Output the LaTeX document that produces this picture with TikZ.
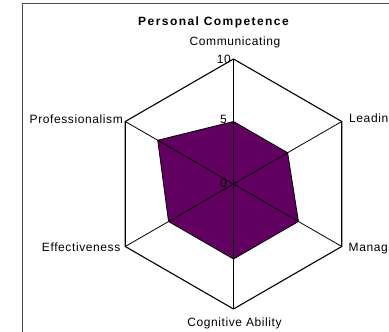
\documentclass[tikz,border=0pt]{standalone}
\usepackage{fontspec}
\setmainfont{Liberation Sans}[LetterSpace=5]
\usepackage{xcolor}
\usetikzlibrary{calc}

\definecolor{radarpurple}{RGB}{98,0,98}

\begin{document}
\begin{tikzpicture}[x=1pt, y=1pt,
                    every node/.style={inner sep=0pt, font=\fontsize{12}{14}\selectfont},
                    hexline/.style={black, line width=1.1pt},
                    spoke/.style={black, line width=0.8pt},
                    series/.style={fill=radarpurple, draw=black, line width=0.8pt}]

  \useasboundingbox (0,0) rectangle (389,332);
  \clip (0,0) rectangle (389,332);

  % === Chart area frame (runs off the right and bottom) ===
  \draw[gray!60!black, line width=1.5pt] (22.5,-10) rectangle (400,328.5);

  % === Axes: centre, outer vertices (value 10) ===
  \coordinate (O) at (233.5,148);
  \foreach \name/\ang in {com/90, lea/30, man/-30, cog/-90, eff/210, pro/150} {
    \coordinate (\name) at ($(O)+(\ang:125)$);
  }

  % === Data series ===
  \foreach \name/\ang/\val in {com/90/5, lea/30/5, man/-30/6, cog/-90/6, eff/210/6, pro/150/7} {
    \coordinate (d\name) at ($(O)+(\ang:{12.5*\val})$);
  }
  \filldraw[series] (dcom) -- (dlea) -- (dman) -- (dcog) -- (deff) -- (dpro) -- cycle;

  % spokes on top of the fill
  \foreach \name in {com, lea, man, cog, eff, pro} {
    \draw[spoke] (O) -- (\name);
  }
  \draw[hexline] (com) -- (lea) -- (man) -- (cog) -- (eff) -- (pro) -- cycle;

  % === Scale ===
  \node[anchor=east] (tick10) at (231,272.5) {10};
  \node[anchor=east] (tick5) at (227,213) {5};
  \node[anchor=east] (tick0) at (227,149) {0};

  % === Titles and axis names ===
  \node[font=\fontsize{12}{14}\selectfont\bfseries\addfontfeatures{LetterSpace=12}] (title) at (213.5,310) {Personal Competence};
  \node (lblcom) at (235,290) {Communicating};
  \node[anchor=west] (lbllea) at (349,213) {Leading};
  \node[anchor=west] (lblman) at (348.5,84) {Managing};
  \node (lblcog) at (234.5,9) {Cognitive Ability};
  \node[anchor=east] (lbleff) at (120.5,84.5) {Effectiveness};
  \node[anchor=east] (lblpro) at (123,213) {Professionalism};

\end{tikzpicture}
\end{document}
